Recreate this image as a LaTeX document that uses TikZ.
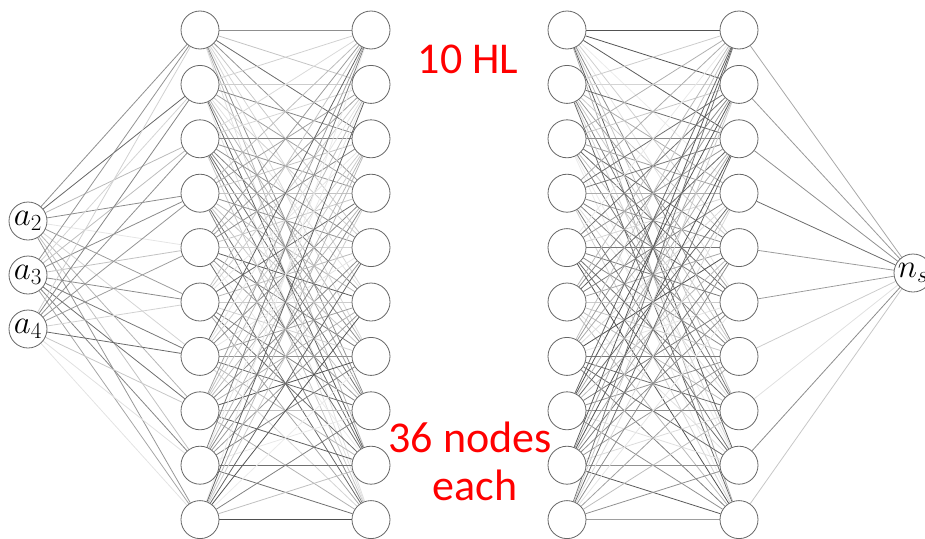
\RequirePackage{fix-cm}
\documentclass[tikz,border=0pt]{standalone}
\usepackage{fontspec}
\newfontfamily\carl{Carlito}
\usetikzlibrary{backgrounds}
\tikzset{
  neuron/.style={circle,draw=black!60,fill=white,line width=0.8pt,minimum size=38pt,inner sep=0pt},
  iolabel/.style={font=\fontsize{33}{33}\selectfont},
  lbl/.style={text=red,font=\carl\fontsize{44}{44}\selectfont,anchor=base,inner sep=0pt},
  conn/.style={line width=0.8pt}
}
\begin{document}
\begin{tikzpicture}[x=1pt,y=-1pt]
\useasboundingbox (0,0) rectangle (925,538);
\pgfmathsetseed{11}
% input nodes
\node[neuron,iolabel] (a2) at (28,221) {$a_2$};
\node[neuron,iolabel] (a3) at (28,275) {$a_3$};
\node[neuron,iolabel] (a4) at (28,329) {$a_4$};
% hidden layers
\foreach \j in {0,...,9}{
  \pgfmathsetmacro\yy{30+54.4*\j}
  \node[neuron] (p\j) at (200,\yy) {};
  \node[neuron] (q\j) at (371,\yy) {};
  \node[neuron] (r\j) at (567,\yy) {};
  \node[neuron] (s\j) at (739,\yy) {};
}
% output node
\node[neuron,iolabel] (ns) at (913,273) {$n_s$};
% connectors
\begin{scope}[on background layer]
\foreach \i in {2,3,4}{\foreach \j in {0,...,9}{
  \pgfmathsetmacro\g{int(8+55*rnd)}
  \draw[conn,draw=black!\g] (a\i) -- (p\j);
}}
\foreach \i in {0,...,9}{\foreach \j in {0,...,9}{
  \pgfmathsetmacro\g{int(8+62*rnd)}
  \draw[conn,draw=black!\g] (p\i) -- (q\j);
}}
\foreach \i in {0,...,9}{\foreach \j in {0,...,9}{
  \pgfmathsetmacro\g{int(8+62*rnd)}
  \draw[conn,draw=black!\g] (r\i) -- (s\j);
}}
\foreach \j in {0,...,9}{
  \pgfmathsetmacro\g{int(8+55*rnd)}
  \draw[conn,draw=black!\g] (s\j) -- (ns);
}
\end{scope}
% annotations
\node[lbl] (hl) at (468,73) {10 HL};
\node[lbl] (nd) at (470,452) {36 nodes};
\node[lbl] (ea) at (475,500) {each};
\end{tikzpicture}
\end{document}
